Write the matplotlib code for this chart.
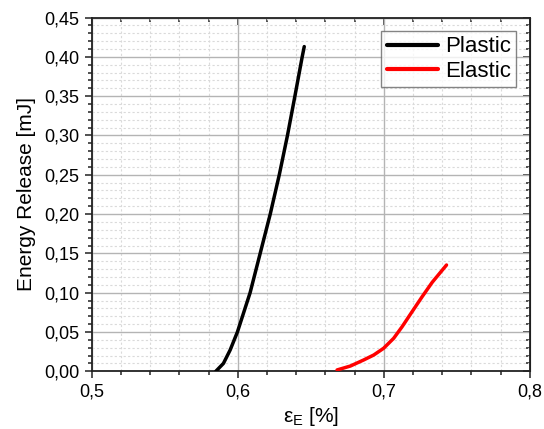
import matplotlib
matplotlib.use("Agg")
import matplotlib.pyplot as plt
from matplotlib.ticker import MultipleLocator, FuncFormatter

plt.rcParams['font.family'] = ['Liberation Sans', 'DejaVu Sans']
plt.rcParams['mathtext.default'] = 'regular'

# Energy release vs. strain
plastic_strain = [0.5849, 0.5901, 0.5947, 0.5997, 0.6084, 0.6153, 0.6222,
                  0.6284, 0.6340, 0.6391, 0.6441, 0.6455]
plastic_energy = [0.000, 0.010, 0.027, 0.050, 0.100, 0.150, 0.200,
                  0.250, 0.300, 0.350, 0.400, 0.413]

elastic_strain = [0.6680, 0.6771, 0.6862, 0.6931, 0.6999, 0.7068, 0.7126,
                  0.7194, 0.7263, 0.7332, 0.7430]
elastic_energy = [0.0017, 0.0067, 0.0144, 0.0207, 0.0293, 0.0420, 0.0568,
                  0.0758, 0.0949, 0.1132, 0.1352]

series_labels = ['Plastic', 'Elastic']
x_label = '$ε_E$ [%]'
y_label = 'Energy Release [mJ]'

fig = plt.figure(figsize=(5.44, 4.29), dpi=100)
ax = fig.add_axes([0.169, 0.1345, 0.8047, 0.8247])

ax.plot(plastic_strain, plastic_energy, color='black', lw=2.5,
        solid_capstyle='round', solid_joinstyle='round',
        label=series_labels[0], zorder=3)
ax.plot(elastic_strain, elastic_energy, color='#ff0000', lw=2.5,
        solid_capstyle='round', solid_joinstyle='round',
        label=series_labels[1], zorder=3)

ax.set_xlim(0.5, 0.8)
ax.set_ylim(0.0, 0.45)

ax.xaxis.set_major_locator(MultipleLocator(0.1))
ax.xaxis.set_minor_locator(MultipleLocator(0.02))
ax.yaxis.set_major_locator(MultipleLocator(0.05))
ax.yaxis.set_minor_locator(MultipleLocator(0.01))
ax.xaxis.set_major_formatter(FuncFormatter(lambda v, p: f'{v:.1f}'.replace('.', ',')))
ax.yaxis.set_major_formatter(FuncFormatter(lambda v, p: f'{v:.2f}'.replace('.', ',')))

ax.grid(which='major', color='#b4b4b4', lw=1.0, ls='-', zorder=1)
ax.grid(which='minor', color='#dadada', lw=0.8, ls=(0, (2, 2)), zorder=0)
ax.set_axisbelow(True)

for s in ax.spines.values():
    s.set_linewidth(1.3)
    s.set_color('#222222')

ax.tick_params(which='both', direction='out', top=False, right=False,
               labelsize=13, width=1.1, color='#222222')
ax.tick_params(which='major', length=5, pad=4)
ax.tick_params(which='minor', length=3)

# inward ticks on the opposite axes
axt = ax.secondary_xaxis('top')
axt.xaxis.set_major_locator(MultipleLocator(0.1))
axt.xaxis.set_minor_locator(MultipleLocator(0.02))
axt.tick_params(which='both', direction='in', labeltop=False, width=1.1, color='#222222')
axt.tick_params(which='major', length=5)
axt.tick_params(which='minor', length=3)
axr = ax.secondary_yaxis('right')
axr.yaxis.set_major_locator(MultipleLocator(0.05))
axr.yaxis.set_minor_locator(MultipleLocator(0.01))
axr.tick_params(which='both', direction='in', labelright=False, width=1.1, color='#222222')
axr.tick_params(which='major', length=5)
axr.tick_params(which='minor', length=3)

ax.set_xlabel(x_label, fontsize=15, labelpad=3)
ax.set_ylabel(y_label, fontsize=15, labelpad=6)

leg = ax.legend(loc='upper right', fontsize=16, frameon=True, fancybox=False,
                handlelength=2.3, handletextpad=0.3, borderpad=0.25,
                labelspacing=0.15, borderaxespad=0.6, edgecolor='#666666')
leg.get_frame().set_linewidth(1.0)
for line in leg.get_lines():
    line.set_linewidth(3.0)

fig.savefig('out.png', dpi=100, facecolor='white')
